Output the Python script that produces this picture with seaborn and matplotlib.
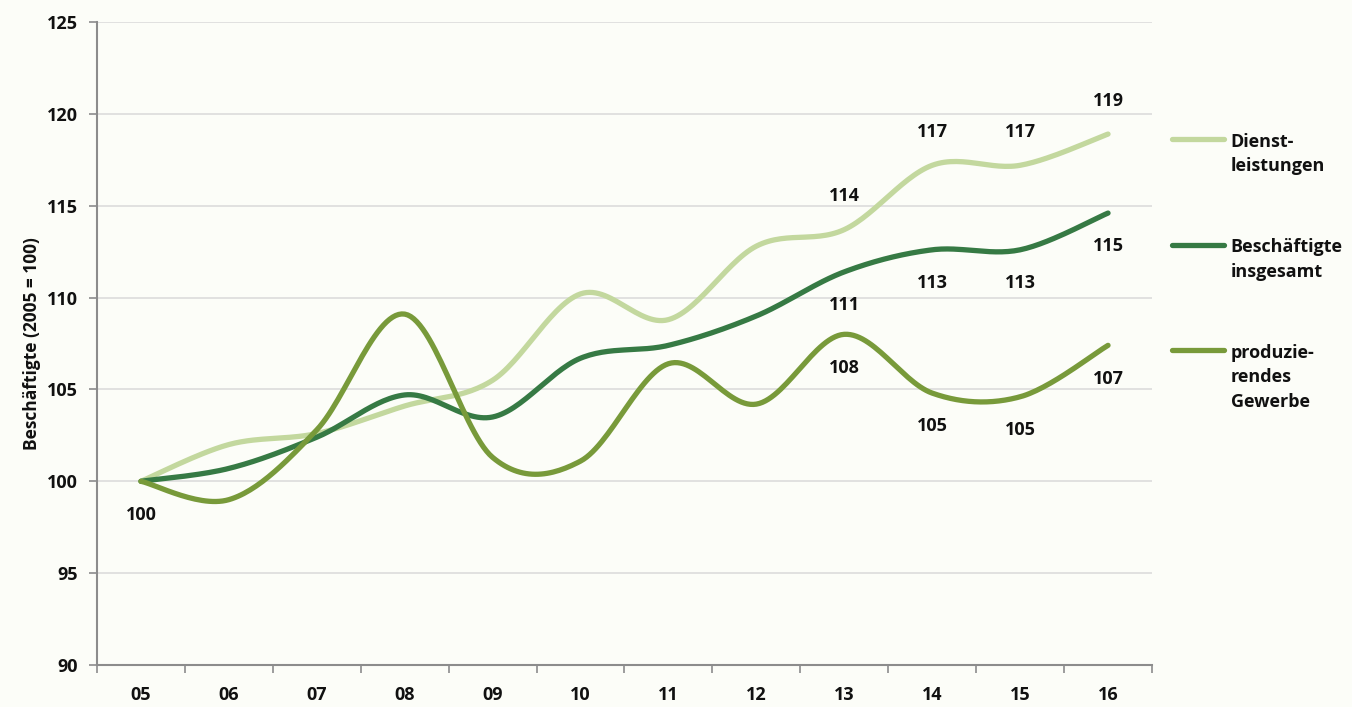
import numpy as np
import pandas as pd
import matplotlib
matplotlib.use("Agg")
import matplotlib.pyplot as plt
import seaborn as sns

# Data (Index 2005 = 100)
years = ["05", "06", "07", "08", "09", "10", "11", "12", "13", "14", "15", "16"]
dienst = [100, 102.0, 102.6, 104.1, 105.5, 110.2, 108.8, 112.8, 113.7, 117.2, 117.2, 118.9]
gesamt = [100, 100.7, 102.4, 104.7, 103.5, 106.7, 107.4, 109.0, 111.4, 112.6, 112.6, 114.6]
prod = [100, 99.0, 102.8, 109.1, 101.3, 101.1, 106.4, 104.2, 108.0, 104.8, 104.6, 107.4]

series_names = ["Dienst-\nleistungen", "Beschäftigte\ninsgesamt", "produzie-\nrendes\nGewerbe"]
colors = ["#c3d89e", "#367a44", "#789a3a"]
# which points get a data label, and whether above (+1) or below (-1)
label_idx = [0, 8, 9, 10, 11]
label_side = [1, -1, -1]


def smooth(y, n=30):
    # Excel-style smoothed line (Catmull-Rom Bezier through the points)
    x = np.arange(len(y), dtype=float)
    y = np.asarray(y, dtype=float)
    px = np.concatenate([[x[0]], x, [x[-1]]])
    py = np.concatenate([[y[0]], y, [y[-1]]])
    xs, ys = [], []
    t = np.linspace(0, 1, n)
    for i in range(1, len(px) - 2):
        p0 = np.array([px[i], py[i]])
        p3 = np.array([px[i + 1], py[i + 1]])
        p1 = p0 + (p3 - np.array([px[i - 1], py[i - 1]])) / 6
        p2 = p3 - (np.array([px[i + 2], py[i + 2]]) - p0) / 6
        b = ((1 - t) ** 3)[:, None] * p0 + (3 * (1 - t) ** 2 * t)[:, None] * p1 \
            + (3 * (1 - t) * t ** 2)[:, None] * p2 + (t ** 3)[:, None] * p3
        xs.extend(b[:, 0])
        ys.extend(b[:, 1])
    return np.array(xs), np.array(ys)


sns.set_theme(style="white")
plt.rcParams["font.family"] = ["Open Sans", "DejaVu Sans"]
bg = "#fcfdf8"
txt = "#111111"
fs = 13

fig = plt.figure(figsize=(13.52, 7.07), dpi=100, facecolor=bg)
ax = fig.add_axes([97 / 1352, 1 - 665 / 707, (1152 - 97) / 1352, (665 - 22) / 707])
ax.set_facecolor(bg)

handles = []
for vals, name, col in zip([dienst, gesamt, prod], series_names, colors):
    sx, sy = smooth(vals)
    df = pd.DataFrame({"x": sx, "y": sy})
    sns.lineplot(data=df, x="x", y="y", ax=ax, color=col, linewidth=3.8,
                 sort=False, estimator=None, solid_capstyle="round")
    handles.append(ax.lines[-1])

# data labels
for vals, side in zip([dienst, gesamt, prod], label_side):
    for i in label_idx:
        if i == 0 and vals is not prod:
            continue
        ax.annotate(f"{vals[i]:.0f}", (i, vals[i]), xytext=(0, 24 * side),
                    textcoords="offset points", ha="center", va="center",
                    fontsize=fs, fontweight="bold", color=txt)

ax.set_xlim(-0.5, len(years) - 0.5)
ax.set_ylim(90, 125)
ax.set_yticks(range(90, 126, 5))
ax.set_xticks(range(len(years)))
ax.set_xticklabels(years)
ax.set_xticks(np.arange(-0.5, len(years), 1), minor=True)
ax.tick_params(axis="x", which="major", length=0, pad=15)
ax.tick_params(axis="x", which="minor", length=6, color="#8c8c8c", width=1.2, direction="out", bottom=True)
ax.tick_params(axis="y", length=6, color="#8c8c8c", width=1.2, direction="out", left=True, pad=8)
for lab in ax.get_xticklabels() + ax.get_yticklabels():
    lab.set_fontsize(fs)
    lab.set_fontweight("bold")
    lab.set_color(txt)

ax.grid(axis="y", color="#dcdcdc", linewidth=1.2)
ax.set_axisbelow(True)
for s in ["top", "right"]:
    ax.spines[s].set_visible(False)
for s in ["left", "bottom"]:
    ax.spines[s].set_color("#8c8c8c")
    ax.spines[s].set_linewidth(1.5)

ax.set_xlabel("")
ax.set_ylabel("Beschäftigte (2005 = 100)", fontsize=12.5, fontweight="bold", color=txt, labelpad=4)

leg = ax.legend(handles, series_names, loc="upper left",
                bbox_to_anchor=(1172 / 1352, 1 - 133 / 707), bbox_transform=fig.transFigure,
                frameon=False, borderpad=0, borderaxespad=0, handlelength=2.9,
                handletextpad=0.35, labelspacing=3.5,
                prop={"weight": "bold", "size": fs})
for t in leg.get_texts():
    t.set_linespacing(1.45)
    t.set_color(txt)
# put the legend line next to the first text line
for col in leg._legend_handle_box.get_children():
    for item in col.get_children():
        item.align = "top"

fig.savefig("out.png", dpi=100, facecolor=bg)
